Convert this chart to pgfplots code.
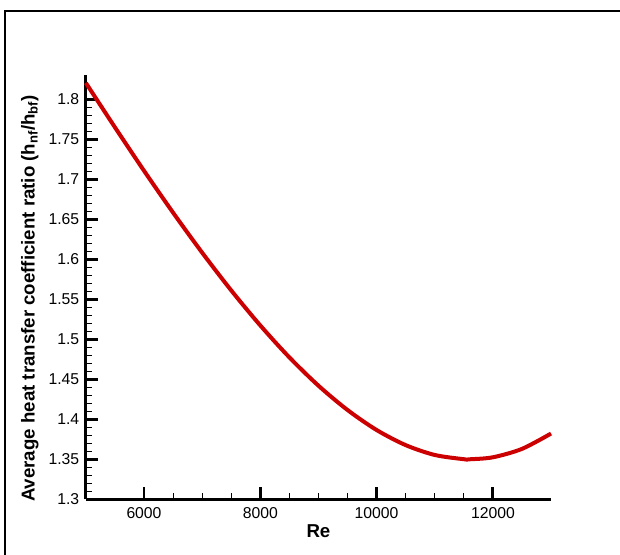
\documentclass[border=0pt]{standalone}
\usepackage{fontspec}
\setmainfont{Liberation Sans}
\usepackage{pgfplots}
\pgfplotsset{compat=1.18}
\definecolor{curvered}{RGB}{204,0,0}
\begin{document}
\begin{tikzpicture}[x=0.75pt,y=0.75pt]
\path[use as bounding box] (0,0) rectangle (620,555);
\draw[line width=1.2pt] (5,0) -- (5,544) -- (620,544);
\begin{axis}[
  at={(64.39pt,41.78pt)}, anchor=south west,
  scale only axis,
  width=348.9pt, height=318pt,
  xmin=5000, xmax=13000,
  ymin=1.3, ymax=1.83,
  axis x line=bottom, axis y line=left,
  axis line style={-, line width=2.2pt},
  tick align=inside,
  xtick={6000,8000,10000,12000},
  ytick={1.3,1.35,1.4,1.45,1.5,1.55,1.6,1.65,1.7,1.75,1.8},
  scaled x ticks=false,
  scaled y ticks=false,
  minor x tick num=3,
  minor y tick num=4,
  major tick length=9pt,
  minor tick length=4.5pt,
  every tick/.style={black},
  every major tick/.append style={line width=2.2pt},
  every minor tick/.append style={line width=0.75pt},
  /pgf/number format/assume math mode=true,
  /pgf/number format/set thousands separator={},
  /pgf/number format/fixed,
  tick label style={font=\fontsize{11.8}{13}\selectfont},
  yticklabel style={/pgf/number format/precision=2, xshift=-1.5pt},
  xticklabel style={yshift=-2.5pt},
  xlabel={\textbf{Re}},
  ylabel={\textbf{Average heat transfer coefficient ratio (h\textsubscript{nf}/h\textsubscript{bf})}},
  label style={font=\fontsize{14}{16}\selectfont},
  xlabel style={at={(axis description cs:0.5,-0.0748)}, anchor=center},
  ylabel style={at={(axis description cs:-0.1204,0.474)}, anchor=center},
  clip=false,
]
\addplot[curvered, line width=3pt, smooth, tension=0.5] coordinates {
(5000,1.8205)
(5500,1.7650)
(6000,1.7107)
(6500,1.6583)
(7000,1.6083)
(7500,1.5611)
(8000,1.5173)
(8500,1.4774)
(9000,1.4420)
(9500,1.4116)
(10000,1.3866)
(10500,1.3677)
(11000,1.3554)
(11500,1.3501)
(11600,1.3500)
(12000,1.3525)
(12500,1.3630)
(13000,1.3822)
};
\end{axis}
\end{tikzpicture}
\end{document}
